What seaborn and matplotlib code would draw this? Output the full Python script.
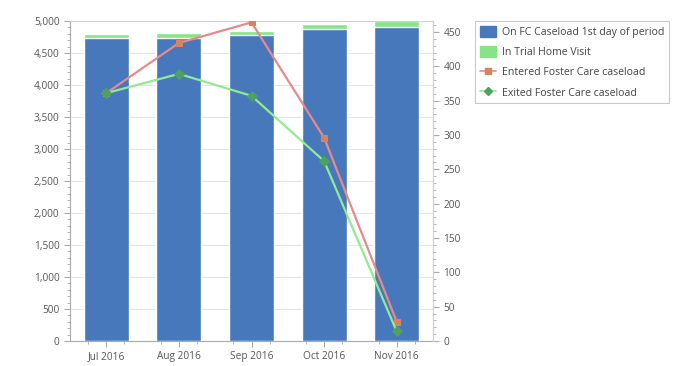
import numpy as np
import pandas as pd
import matplotlib
matplotlib.use('Agg')
import matplotlib.pyplot as plt
import seaborn as sns
from matplotlib.ticker import FuncFormatter, MultipleLocator, AutoMinorLocator
from matplotlib.patches import Patch
from matplotlib.lines import Line2D

months = ['Jul 2016', 'Aug 2016', 'Sep 2016', 'Oct 2016', 'Nov 2016']
on_caseload = [4740, 4740, 4780, 4875, 4910]
trial_home = [60, 80, 70, 85, 95]
entered = [361, 434, 464, 296, 28]
exited = [361, 389, 357, 262, 14]

blue = '#4878BC'
green = '#86E486'
red_line = '#E88A8A'
red_mark = '#D9835E'
green_line = '#92EA92'
green_mark = '#4FA065'
tick_col = '#555555'

sns.set_style('white')
plt.rcParams['font.family'] = ['Open Sans', 'DejaVu Sans']

df = pd.DataFrame({'month': months, 'on': on_caseload,
                   'total': np.array(on_caseload) + np.array(trial_home)})

fig = plt.figure(figsize=(6.96, 3.66), dpi=100)
ax = fig.add_axes([70 / 696, 25 / 366, 363 / 696, 320 / 366])

sns.barplot(data=df, x='month', y='total', color=green, width=0.62,
            saturation=1, ax=ax, zorder=2)
sns.barplot(data=df, x='month', y='on', color=blue, width=0.62,
            saturation=1, ax=ax, zorder=3)
ax.set_ylim(0, 5000)
ax.set_xlim(-0.5, 4.5)
ax.set_xlabel('')
ax.set_ylabel('')
ax.yaxis.set_major_locator(MultipleLocator(500))
ax.yaxis.set_minor_locator(AutoMinorLocator(5))
ax.yaxis.set_major_formatter(FuncFormatter(lambda v, p: f'{int(v):,}'))
ax.grid(axis='y', color='#e4e4e4', lw=0.8, zorder=0)
ax.set_axisbelow(True)
for s in ax.spines.values():
    s.set_color('#d0d0d0')
    s.set_linewidth(0.8)
ax.spines['left'].set_color('#aaaaaa')
ax.spines['bottom'].set_color('#aaaaaa')
ax.tick_params(axis='both', which='both', direction='out', color='#aaaaaa',
               labelsize=7.3, labelcolor=tick_col)
ax.tick_params(axis='both', which='major', length=4)
ax.tick_params(axis='both', which='minor', length=2)
ax.set_xticks(np.arange(-0.25, 4.6, 0.5), minor=True)
ax.tick_params(axis='y', which='both', left=True)
ax.tick_params(axis='x', which='both', bottom=True)

ax2 = ax.twinx()
xs = np.arange(len(months))
sns.lineplot(x=xs, y=entered, ax=ax2, color=red_line, lw=1.6, sort=False,
             marker='s', markersize=5, markerfacecolor=red_mark,
             markeredgecolor=red_mark, zorder=5)
sns.lineplot(x=xs, y=exited, ax=ax2, color=green_line, lw=1.6, sort=False,
             marker='D', markersize=5, markerfacecolor=green_mark,
             markeredgecolor=green_mark, zorder=6)
ax2.set_ylim(0, 466)
ax2.yaxis.set_major_locator(MultipleLocator(50))
ax2.yaxis.set_minor_locator(AutoMinorLocator(5))
ax2.tick_params(axis='y', which='both', direction='out', color='#aaaaaa',
                labelsize=7.3, labelcolor=tick_col, right=True)
ax2.tick_params(axis='y', which='major', length=4)
ax2.tick_params(axis='y', which='minor', length=2)
for s in ax2.spines.values():
    s.set_visible(False)
ax2.spines['right'].set_visible(True)
ax2.spines['right'].set_color('#d0d0d0')

handles = [
    Patch(facecolor=blue, edgecolor=blue),
    Patch(facecolor=green, edgecolor=green),
    Line2D([], [], color=red_line, marker='s', markersize=4,
           markerfacecolor=red_mark, markeredgecolor=red_mark, lw=1.2),
    Line2D([], [], color=green_line, marker='D', markersize=4,
           markerfacecolor=green_mark, markeredgecolor=green_mark, lw=1.2),
]
labels = ['On FC Caseload 1st day of period', 'In Trial Home Visit',
          'Entered Foster Care caseload', 'Exited Foster Care caseload']
leg = fig.legend(handles, labels, loc='upper left',
                 bbox_to_anchor=(475 / 696, 1 - 21 / 366), fontsize=7.6,
                 frameon=True, fancybox=False, handlelength=1.5,
                 handleheight=1.3, handletextpad=0.6, labelspacing=0.75,
                 borderpad=0.45, borderaxespad=0)
leg.get_frame().set_edgecolor('#bbbbbb')
leg.get_frame().set_linewidth(0.8)
for t in leg.get_texts():
    t.set_color('#444444')

fig.savefig('out.png', dpi=100)
